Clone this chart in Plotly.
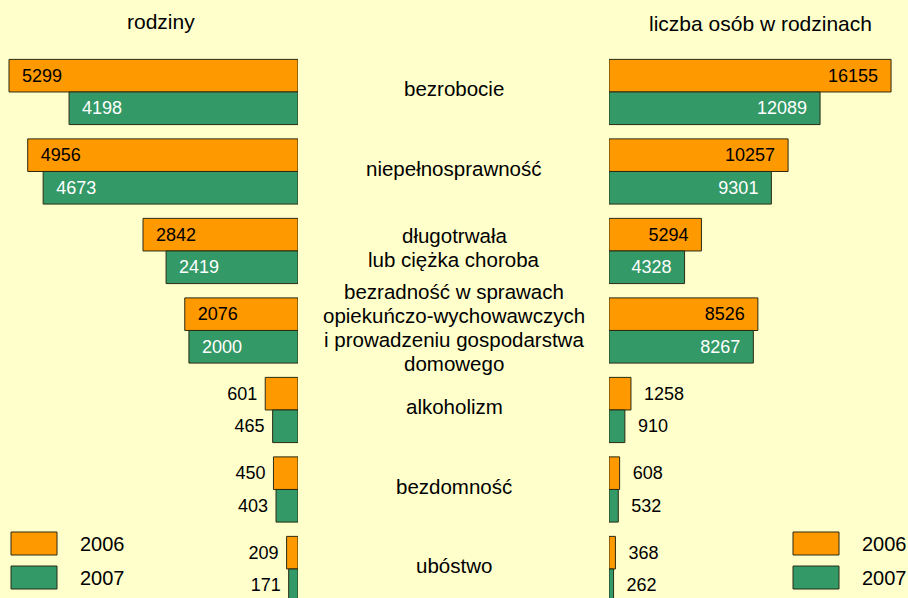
import plotly.graph_objects as go

# ---------------- data ----------------
categories = [
    "bezrobocie",
    "niepełnosprawność",
    "długotrwała<br>lub ciężka choroba",
    "bezradność w sprawach<br>opiekuńczo-wychowawczych<br>i prowadzeniu gospodarstwa<br>domowego",
    "alkoholizm",
    "bezdomność",
    "ubóstwo",
]
families_2006 = [5299, 4956, 2842, 2076, 601, 450, 209]
families_2007 = [4198, 4673, 2419, 2000, 465, 403, 171]
persons_2006 = [16155, 10257, 5294, 8526, 1258, 608, 368]
persons_2007 = [12089, 9301, 4328, 8267, 910, 532, 262]
years = ["2006", "2007"]
title_left = "rodziny"
title_right = "liczba osób w rodzinach"
label_inside = [True, True, True, True, False, False, False]

# ---------------- style ----------------
BG = "#FFFFCC"
ORANGE = "#FF9900"
GREEN = "#339966"
EDGE = "#2b2b14"
FONT = "Arial, Liberation Sans, sans-serif"
NB = "\u00a0"

pos = list(range(len(categories)))
W = 0.41


def texts(values, side):
    out = []
    for v, ins in zip(values, label_inside):
        if side == "left":
            out.append((NB * 2 + str(v)) if ins else (str(v) + NB))
        else:
            out.append((str(v) + NB * 2) if ins else (NB * 2 + str(v)))
    return out


def colors(inside_color):
    return [inside_color if ins else "black" for ins in label_inside]


tpos = ["inside" if ins else "outside" for ins in label_inside]

fig = go.Figure()
specs = [
    (families_2006, "x", "left", ORANGE, "black", -W, years[0]),
    (families_2007, "x", "left", GREEN, "white", 0.0, years[1]),
    (persons_2006, "x2", "right", ORANGE, "black", -W, years[0]),
    (persons_2007, "x2", "right", GREEN, "white", 0.0, years[1]),
]
for vals, xa, side, col, tcol, off, name in specs:
    fig.add_trace(go.Bar(
        x=vals, y=pos, orientation="h", xaxis=xa, yaxis="y",
        name=name, showlegend=False,
        width=W, offset=off,
        marker=dict(color=col, line=dict(color=EDGE, width=1)),
        text=texts(vals, side), textposition=tpos,
        insidetextanchor="end",
        textfont=dict(family=FONT, size=18, color=colors(tcol)),
        cliponaxis=True,
    ))

# category labels in the middle (one annotation per line)
LINE = 24
for i, cat in enumerate(categories):
    lines = cat.split("<br>")
    n = len(lines)
    for j, ln in enumerate(lines):
        fig.add_annotation(
            x=0.5, xref="paper", y=i, yref="y",
            text=ln, showarrow=False, xanchor="center", yanchor="middle",
            yshift=-((j - (n - 1) / 2) * LINE) + 3,
            font=dict(family=FONT, size=20.5, color="black"),
        )

# titles
fig.add_annotation(x=161 / 908, y=1 - 22 / 598, xref="paper", yref="paper",
                   text=title_left, showarrow=False, xanchor="center", yanchor="middle",
                   font=dict(family=FONT, size=21, color="black"))
fig.add_annotation(x=760 / 908, y=1 - 24 / 598, xref="paper", yref="paper",
                   text=title_right, showarrow=False, xanchor="center", yanchor="middle",
                   font=dict(family=FONT, size=21, color="black"))

# legends (two copies, drawn as swatches + text)
for lx, tx in [(11, 78), (793, 860)]:
    for (y0, y1), col, yr in [((532, 555), ORANGE, years[0]), ((566, 589), GREEN, years[1])]:
        fig.add_shape(type="rect", xref="paper", yref="paper",
                      x0=lx / 908, x1=(lx + 46) / 908,
                      y0=1 - y1 / 598, y1=1 - y0 / 598,
                      fillcolor=col, line=dict(color=EDGE, width=1))
        fig.add_annotation(x=tx / 908, y=1 - (y0 + y1) / 2 / 598, xref="paper", yref="paper",
                           text=yr, showarrow=False, xanchor="left", yanchor="middle",
                           font=dict(family=FONT, size=20, color="black"))

axis_common = dict(showgrid=False, zeroline=False, showticklabels=False,
                   showline=False, ticks="", fixedrange=True)
fig.update_layout(
    width=908, height=598,
    margin=dict(l=0, r=0, t=0, b=0),
    paper_bgcolor=BG, plot_bgcolor=BG,
    barmode="overlay",
    showlegend=False,
    xaxis=dict(domain=[0, 298 / 908], range=[5464, 0], anchor="y", **axis_common),
    xaxis2=dict(domain=[609 / 908, 1], range=[0, 17125], anchor="y", **axis_common),
    yaxis=dict(range=[6.365, -1.157], anchor="x", **axis_common),
    font=dict(family=FONT),
)

fig.write_html(
    "out.html",
    config={"displayModeBar": False, "staticPlot": True},
    post_script="document.body.style.margin='0';document.body.style.overflow='hidden';"
                "document.body.style.background='#FFFFCC';",
)
